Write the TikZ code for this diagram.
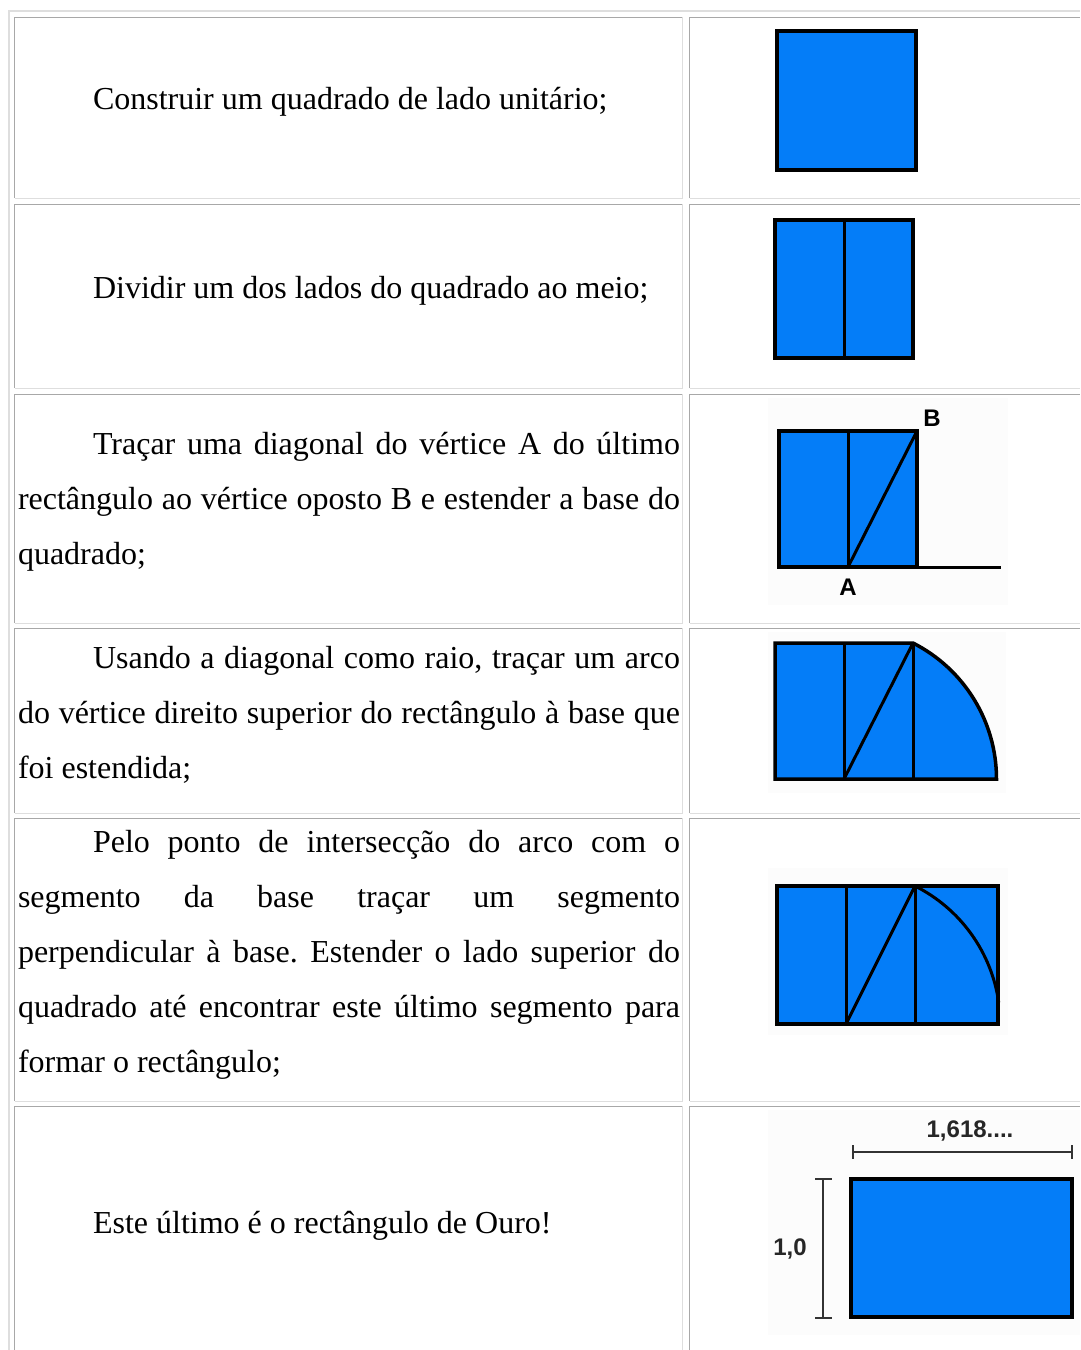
\documentclass[tikz,border=0pt]{standalone}
\usepackage{fontspec}
\setmainfont{Liberation Serif}
\newfontfamily\figfont{Liberation Sans}
\definecolor{gblue}{RGB}{4,125,248}
\definecolor{cellhi}{RGB}{168,168,168}
\definecolor{celllo}{RGB}{222,222,222}
\definecolor{imgbg}{RGB}{252,252,252}
\newcommand\jline[2]{\makebox[#1][s]{#2}}
\frenchspacing
\begin{document}
\begin{tikzpicture}[x=1pt,y=-1pt,
  txt/.style={anchor=base west, inner sep=0pt, outer sep=0pt, font=\fontsize{32}{38}\selectfont\frenchspacing},
  fig/.style={fill=gblue, draw=black, line width=3.5pt, line join=miter},
  ln/.style={draw=black, line width=3pt},
  lbl/.style={inner sep=0pt, font=\figfont\bfseries\fontsize{24}{24}\selectfont},
  dlbl/.style={inner sep=0pt, text=black!85, font=\figfont\bfseries\fontsize{24}{24}\selectfont},
  dim/.style={draw=black!80, line width=1.7pt},
  bghi/.style={draw=cellhi, line width=1pt},
  bglo/.style={draw=celllo, line width=1pt},
  outer/.style={draw=celllo, line width=2pt},
  imgback/.style={fill=imgbg}]
\useasboundingbox (0,0) rectangle (1080,1350);
\fill[white] (0,0) rectangle (1080,1350);
% outer table border
\draw[outer] (9,1350) -- (9,11) -- (1080,11);
% cells
\foreach \t/\b in {17/198, 204/388, 394/623, 628/813, 818/1101, 1106/1360}{
  \draw[bghi] (14.5,\b) -- (14.5,\t) -- (682.5,\t);
  \draw[bglo] (682.5,\t) -- (682.5,\b) -- (14.5,\b);
  \draw[bghi] (689.5,\b) -- (689.5,\t) -- (1080,\t);
  \draw[bglo] (689.5,\b) -- (1080,\b);
}
% image backgrounds
\fill[imgback] (768,398) rectangle (1008,605);
\fill[imgback] (768,632) rectangle (1006,793);
\fill[imgback] (768,868) rectangle (1008,1035);
\fill[imgback] (768,1110) rectangle (1080,1335);

% ---------- texts ----------
\node[txt] (t1) at (93,109) {Construir um quadrado de lado unitário;};
\node[txt] (t2) at (93,298) {Dividir um dos lados do quadrado ao meio;};

\node[txt] (t3a) at (93,454) {\jline{587pt}{Traçar uma diagonal do vértice A do último}};
\node[txt] (t3b) at (18,509) {\jline{662pt}{rectângulo ao vértice oposto B e estender a base do}};
\node[txt] (t3c) at (18,564) {quadrado;};

\node[txt] (t4a) at (93,668) {\jline{587pt}{Usando a diagonal como raio, traçar um arco}};
\node[txt] (t4b) at (18,723) {\jline{662pt}{do vértice direito superior do rectângulo à base que}};
\node[txt] (t4c) at (18,778) {foi estendida;};

\node[txt] (t5a) at (93,852) {\jline{587pt}{Pelo ponto de intersecção do arco com o}};
\node[txt] (t5b) at (18,907) {\jline{662pt}{segmento da base traçar um segmento}};
\node[txt] (t5c) at (18,962) {\jline{662pt}{perpendicular à base. Estender o lado superior do}};
\node[txt] (t5d) at (18,1017) {\jline{662pt}{quadrado até encontrar este último segmento para}};
\node[txt] (t5e) at (18,1072) {formar o rectângulo;};

\node[txt] (t6) at (93,1233) {Este último é o rectângulo de Ouro!};

% ---------- figure 1 ----------
\draw[fig] (777,31) rectangle (916,170);
% ---------- figure 2 ----------
\draw[fig] (775,220) rectangle (913,358);
\draw[ln] (844,220) -- (844,358);
% ---------- figure 3 ----------
\draw[fig] (779,431) rectangle (917,567);
\draw[ln] (848,431) -- (848,567);
\draw[ln] (848,567) -- (917,431);
\draw[ln] (917,567) -- (1001,567);
\node[lbl] (B) at (932,418) {B};
\node[lbl] (A) at (848,587) {A};
% ---------- figure 4 ----------
\draw[fig] (775,643) -- (913,643) arc[start angle=-63.1, end angle=0, radius=152.5] -- (775,779) -- cycle;
\draw[ln] (844,643) -- (844,779);
\draw[ln] (913,643) -- (913,779);
\draw[ln] (844,779) -- (913,643);
% ---------- figure 5 ----------
\draw[fig] (777,886) rectangle (998,1024);
\draw[ln] (846,886) -- (846,1024);
\draw[ln] (915,886) -- (915,1024);
\draw[ln] (846,1024) -- (915,886);
\draw[ln] (915,886) arc[start angle=-63.4, end angle=-8, radius=154.3];
% ---------- figure 6 ----------
\draw[fig] (851,1179) rectangle (1072,1317);
\draw[dim] (853,1152) -- (1072,1152);
\draw[dim] (853,1145) -- (853,1159);
\draw[dim] (1072,1145) -- (1072,1159);
\draw[dim] (823,1179) -- (823,1318);
\draw[dim] (815,1179) -- (832,1179);
\draw[dim] (815,1318) -- (832,1318);
\node[dlbl] (w) at (970,1131) {1,618....};
\node[dlbl] (h) at (790,1249) {1,0};
\end{tikzpicture}
\end{document}
